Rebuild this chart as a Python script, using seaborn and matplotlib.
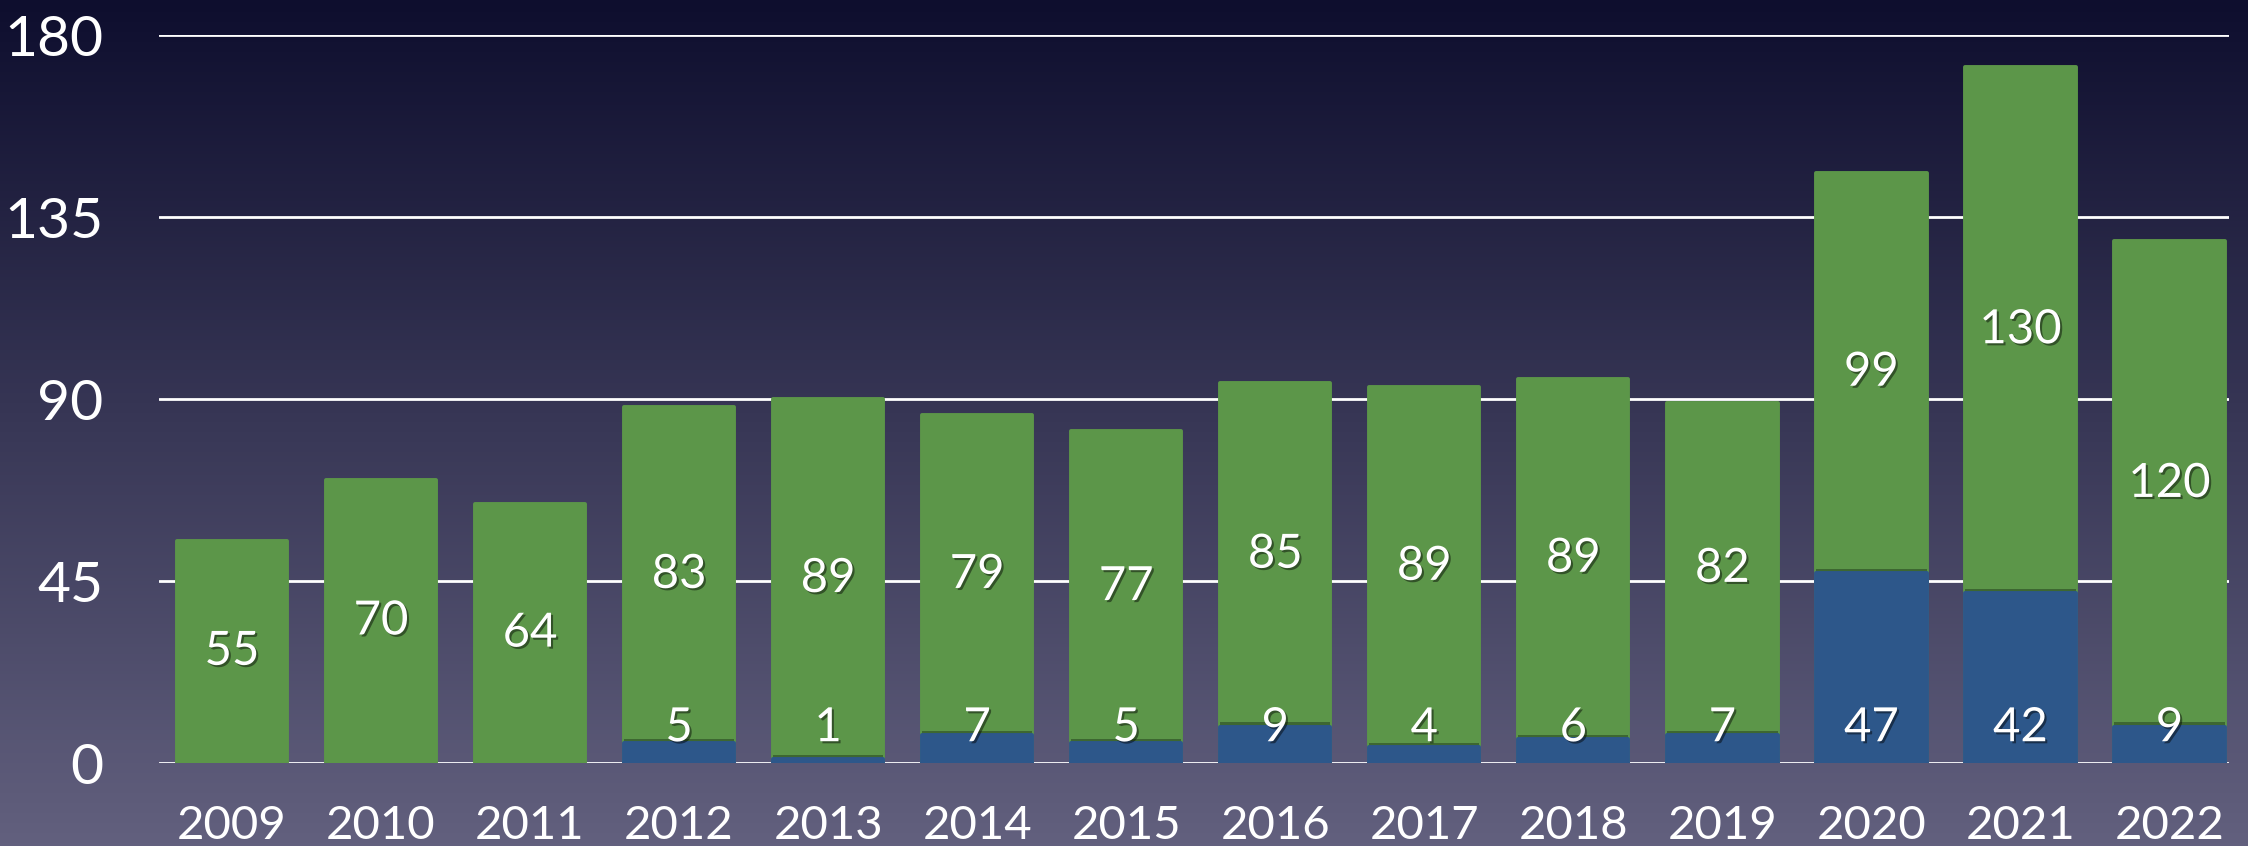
import numpy as np
import matplotlib
matplotlib.use('Agg')
import matplotlib.pyplot as plt
import matplotlib.patheffects as pe
import seaborn as sns

years = ['2009', '2010', '2011', '2012', '2013', '2014', '2015',
         '2016', '2017', '2018', '2019', '2020', '2021', '2022']
blue_vals = [0, 0, 0, 5, 1, 7, 5, 9, 4, 6, 7, 47, 42, 9]
green_vals = [55, 70, 64, 83, 89, 79, 77, 85, 89, 89, 82, 99, 130, 120]
y_ticks = [0, 45, 90, 135, 180]

green = '#5c9649'
blue = '#2d578a'

sns.set_style('white')
plt.rcParams['font.family'] = ['Lato', 'DejaVu Sans']

totals = [b + g for b, g in zip(blue_vals, green_vals)]

fig = plt.figure(figsize=(22.48, 8.46), dpi=100)

# gradient background
bg = fig.add_axes([0, 0, 1, 1], zorder=-10)
top = np.array([14, 14, 46]) / 255
bot = np.array([98, 96, 126]) / 255
t = np.linspace(0, 1, 256)[:, None]
grad = top[None, :] * (1 - t) + bot[None, :] * t
bg.imshow(grad[:, None, :], aspect='auto', extent=[0, 1, 0, 1])
bg.set_axis_off()

ax = fig.add_axes([0.0707, 0.0981, 0.9209, 0.8605])
ax.set_facecolor('none')

bar_shadow = [pe.SimplePatchShadow(offset=(0, -2), shadow_rgbFace='black', alpha=0.35), pe.Normal()]

# totals in green, blue drawn over the bottom part
sns.barplot(x=years, y=totals, color=green, saturation=1, width=0.74, ax=ax,
            edgecolor=green, linewidth=2.8, zorder=3)
n_green = len(ax.patches)
sns.barplot(x=years, y=blue_vals, color=blue, saturation=1, width=0.74, ax=ax,
            edgecolor=blue, linewidth=2.8, zorder=4)
for k, p in enumerate(ax.patches):
    p.set_joinstyle('round')
    if k < n_green:
        p.set_path_effects(bar_shadow)
    else:
        if p.get_height() == 0:
            p.set_visible(False)
        else:
            p.set_path_effects([pe.SimplePatchShadow(offset=(0, 3), shadow_rgbFace='#1f3a1a', alpha=0.5), pe.Normal()])

txt_fx = [pe.SimplePatchShadow(offset=(1.5, -1.5), shadow_rgbFace='black', alpha=0.45), pe.Normal()]
for i in range(len(years)):
    ax.text(i, blue_vals[i] + green_vals[i] / 2, str(green_vals[i]), ha='center', va='center',
            color='white', fontsize=34, zorder=6, path_effects=txt_fx)
    if blue_vals[i] > 0:
        ax.text(i, 8.6, str(blue_vals[i]), ha='center', va='center',
                color='white', fontsize=34, zorder=6, path_effects=txt_fx)

ax.set_xlim(-0.49, 13.40)
ax.set_ylim(0, 180)
ax.set_yticks(y_ticks)
ax.set_yticklabels([str(v) for v in y_ticks])
ax.yaxis.grid(True, color='white', linewidth=2.0, zorder=0)
ax.set_axisbelow(True)
for s in ax.spines.values():
    s.set_visible(False)
ax.tick_params(axis='y', length=0, pad=40, labelsize=41, labelcolor='white')
ax.tick_params(axis='x', length=0, pad=30, labelsize=34, labelcolor='white')
ax.set_xlabel('')
ax.set_ylabel('')

fig.savefig('out.png', dpi=100)
